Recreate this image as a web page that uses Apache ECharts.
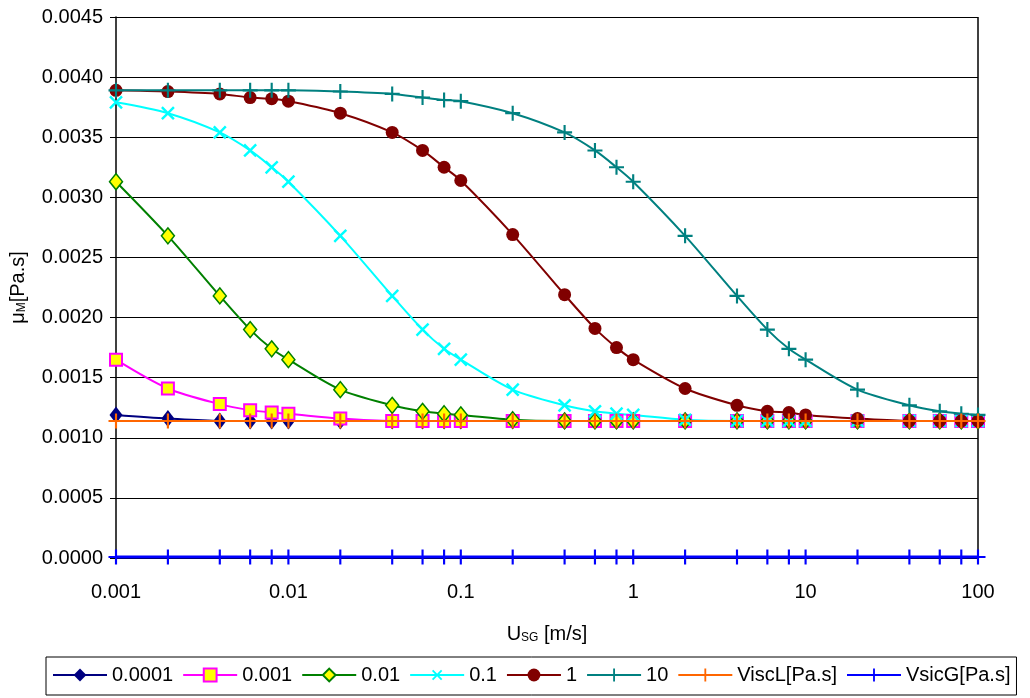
<!DOCTYPE html>
<html>
<head>
<meta charset="utf-8">
<script src="https://cdn.jsdelivr.net/npm/echarts@6/dist/echarts.min.js"></script>
<style>
  html, body { margin: 0; padding: 0; background: #fff; }
  #plotContainer { width: 1030px; height: 698px; }
</style>
</head>
<body>
<div id="plotContainer"></div>
<script>
// U_SG 取值点
const usg = [0.001, 0.002, 0.004, 0.006, 0.008, 0.01, 0.02, 0.04, 0.06, 0.08, 0.1, 0.2, 0.4, 0.6, 0.8, 1, 2, 4, 6, 8, 10, 20, 40, 60, 80, 100];

const s00001 = [0.00119, 0.00116, 0.00114, 0.00114, 0.00114, 0.00114, 0.00114, 0.00114, 0.00114, 0.00114, 0.00114, 0.00114, 0.00114, 0.00114, 0.00114, 0.00114, 0.00114, 0.00114, 0.00114, 0.00114, 0.00114, 0.00114, 0.00114, 0.00114, 0.00114, 0.00114];
const s0001 = [0.00165, 0.00141, 0.00128, 0.00123, 0.00121, 0.00120, 0.00116, 0.00114, 0.00114, 0.00114, 0.00114, 0.00114, 0.00114, 0.00114, 0.00114, 0.00114, 0.00114, 0.00114, 0.00114, 0.00114, 0.00114, 0.00114, 0.00114, 0.00114, 0.00114, 0.00114];
const s001 = [0.00313, 0.00268, 0.00218, 0.00190, 0.00174, 0.00165, 0.00140, 0.00127, 0.00122, 0.00120, 0.00119, 0.00115, 0.00114, 0.00114, 0.00114, 0.00114, 0.00114, 0.00114, 0.00114, 0.00114, 0.00114, 0.00114, 0.00114, 0.00114, 0.00114, 0.00114];
const s01 = [0.00379, 0.00370, 0.00354, 0.00339, 0.00325, 0.00313, 0.00268, 0.00218, 0.00190, 0.00174, 0.00165, 0.00140, 0.00127, 0.00122, 0.00120, 0.00119, 0.00115, 0.00114, 0.00114, 0.00114, 0.00114, 0.00114, 0.00114, 0.00114, 0.00114, 0.00114];
const s1 = [0.00389, 0.00388, 0.00386, 0.00383, 0.00382, 0.00380, 0.00370, 0.00354, 0.00339, 0.00325, 0.00314, 0.00269, 0.00219, 0.00191, 0.00175, 0.00165, 0.00141, 0.00127, 0.00122, 0.00121, 0.00119, 0.00116, 0.00114, 0.00114, 0.00114, 0.00114];
const s10 = [0.00389, 0.00389, 0.00389, 0.00389, 0.00389, 0.00389, 0.00388, 0.00386, 0.00383, 0.00381, 0.00380, 0.00370, 0.00354, 0.00339, 0.00325, 0.00313, 0.00268, 0.00218, 0.00190, 0.00174, 0.00165, 0.00140, 0.00127, 0.00122, 0.00120, 0.00119];
const viscL = [0.00114, 0.00114, 0.00114, 0.00114, 0.00114, 0.00114, 0.00114, 0.00114, 0.00114, 0.00114, 0.00114, 0.00114, 0.00114, 0.00114, 0.00114, 0.00114, 0.00114, 0.00114, 0.00114, 0.00114, 0.00114, 0.00114, 0.00114, 0.00114, 0.00114, 0.00114];
const viscG = [0.000008, 0.000008, 0.000008, 0.000008, 0.000008, 0.000008, 0.000008, 0.000008, 0.000008, 0.000008, 0.000008, 0.000008, 0.000008, 0.000008, 0.000008, 0.000008, 0.000008, 0.000008, 0.000008, 0.000008, 0.000008, 0.000008, 0.000008, 0.000008, 0.000008, 0.000008];

const xTickLabels = ['0.001', '0.01', '0.1', '1', '10', '100'];
const yTickLabels = ['0.0000', '0.0005', '0.0010', '0.0015', '0.0020', '0.0025', '0.0030', '0.0035', '0.0040', '0.0045'];

const plusPath = 'path://M6,0H8V6H14V8H8V14H6V8H0V6H6Z';

function pairs(vals) {
    return usg.map((u, i) => [u, vals[i]]);
}

function makeSeries(name, vals, color, symbol, size, extra) {
    return Object.assign({
        name: name,
        type: 'line',
        smooth: 0.3,
        data: pairs(vals),
        symbol: symbol,
        symbolSize: size,
        lineStyle: { color: color, width: 2 },
        itemStyle: { color: color },
        emphasis: { disabled: true }
    }, extra || {});
}

var chartDom = document.getElementById('plotContainer');
var myChart = echarts.init(chartDom);

const fontFam = '"Liberation Sans", Arial, sans-serif';

const option = {
    animation: false,
    textStyle: { fontFamily: fontFam },
    grid: { left: 116, right: 52, top: 17, bottom: 140 },
    xAxis: {
        type: 'log',
        logBase: 10,
        min: 0.001,
        max: 100,
        name: '{a|U}{s|SG}{a| [m/s]}',
        nameLocation: 'middle',
        nameGap: 66,
        nameTextStyle: {
            rich: {
                a: { fontSize: 20, color: '#000', fontFamily: fontFam },
                s: { fontSize: 12, color: '#000', fontFamily: fontFam, verticalAlign: 'bottom', padding: [8, 0, 0, 0] }
            }
        },
        axisLine: { show: true, onZero: false, lineStyle: { color: '#000', width: 1 } },
        axisTick: { show: false },
        minorTick: { show: false },
        splitLine: { show: false },
        axisLabel: {
            fontSize: 20,
            color: '#000',
            margin: 24,
            formatter: function (v) {
                const idx = Math.round(Math.log10(v)) + 3;
                return xTickLabels[idx] !== undefined ? xTickLabels[idx] : '';
            }
        }
    },
    yAxis: {
        type: 'value',
        min: 0,
        max: 0.0045,
        interval: 0.0005,
        name: '{a|μ}{s|M}{a|[Pa.s]}',
        nameLocation: 'middle',
        nameRotate: 90,
        nameGap: 88,
        nameTextStyle: {
            rich: {
                a: { fontSize: 20, color: '#000', fontFamily: fontFam },
                s: { fontSize: 12, color: '#000', fontFamily: fontFam, verticalAlign: 'bottom', padding: [8, 0, 0, 0] }
            }
        },
        axisLine: { show: true, lineStyle: { color: '#000', width: 1.5 } },
        axisTick: { show: true, inside: false, length: 6, lineStyle: { color: '#000' } },
        splitLine: { show: true, lineStyle: { color: '#000', width: 1 } },
        axisLabel: {
            fontSize: 20,
            color: '#000',
            margin: 13,
            formatter: function (v) {
                const idx = Math.round(v / 0.0005);
                return yTickLabels[idx] !== undefined ? yTickLabels[idx] : '';
            }
        }
    },
    legend: {
        left: 46,
        top: 657,
        padding: [8, 6, 10, 6],
        itemGap: 9,
        itemWidth: 54,
        itemHeight: 16,
        borderColor: '#000',
        borderWidth: 1,
        borderRadius: 0,
        textStyle: { fontSize: 20, color: '#000' },
        data: ['0.0001', '0.001', '0.01', '0.1', '1', '10', 'ViscL[Pa.s]', 'VsicG[Pa.s]']
    },
    series: [
        makeSeries('0.0001', s00001, '#000080', 'diamond', [13, 17]),
        makeSeries('0.001', s0001, '#FF00FF', 'rect', 12, { itemStyle: { color: '#FFFF00', borderColor: '#FF00FF', borderWidth: 2 } }),
        makeSeries('0.01', s001, '#008000', 'diamond', [13, 16], { itemStyle: { color: '#FFFF00', borderColor: '#008000', borderWidth: 1.5 } }),
        makeSeries('0.1', s01, '#00FFFF', plusPath, 17, { symbolRotate: 45 }),
        makeSeries('1', s1, '#800000', 'circle', 13),
        makeSeries('10', s10, '#008080', plusPath, 15),
        makeSeries('ViscL[Pa.s]', viscL, '#FF6600', plusPath, 15, { smooth: false }),
        makeSeries('VsicG[Pa.s]', viscG, '#0000FF', plusPath, 15, { smooth: false, lineStyle: { color: '#0000FF', width: 3 } })
    ]
};

option && myChart.setOption(option);

// 用坐标系换算右边框位置
const pTop = myChart.convertToPixel({ gridIndex: 0 }, [100, 0.0045]);
const pBot = myChart.convertToPixel({ gridIndex: 0 }, [100, 0]);
myChart.setOption({
    graphic: [{
        type: 'line',
        shape: { x1: pTop[0], y1: pTop[1], x2: pBot[0], y2: pBot[1] },
        style: { stroke: '#000', lineWidth: 1.5 },
        z: 1
    }]
});

window.onresize = () => {
    myChart.resize();
};
</script>
</body>
</html>
